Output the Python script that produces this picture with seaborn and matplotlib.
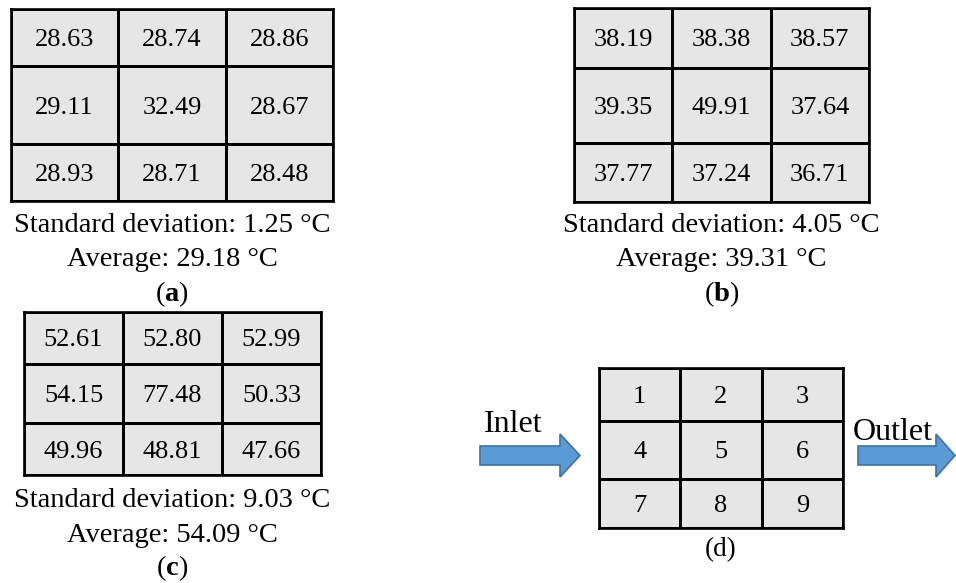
import numpy as np
import matplotlib
matplotlib.use("Agg")
import matplotlib.pyplot as plt
from matplotlib.colors import ListedColormap
from matplotlib.patches import FancyArrow
import seaborn as sns

sns.set_theme(style="white")
plt.rcParams["font.family"] = ["Liberation Serif", "DejaVu Serif"]
plt.rcParams["text.color"] = "black"
plt.rcParams["mathtext.fontset"] = "custom"
plt.rcParams["mathtext.rm"] = "Liberation Serif"
plt.rcParams["mathtext.bf"] = "Liberation Serif:bold"

# Surface temperatures (°C) at the nine measuring points
temps_a = [[28.63, 28.74, 28.86],
           [29.11, 32.49, 28.67],
           [28.93, 28.71, 28.48]]
temps_b = [[38.19, 38.38, 38.57],
           [39.35, 49.91, 37.64],
           [37.77, 37.24, 36.71]]
temps_c = [[52.61, 52.80, 52.99],
           [54.15, 77.48, 50.33],
           [49.96, 48.81, 47.66]]
point_ids = [[1, 2, 3],
             [4, 5, 6],
             [7, 8, 9]]

std_labels = ["Standard deviation: 1.25 °C",
              "Standard deviation: 4.05 °C",
              "Standard deviation: 9.03 °C"]
avg_labels = ["Average: 29.18 °C",
              "Average: 39.31 °C",
              "Average: 54.09 °C"]
panel_tags = ["a", "b", "c"]

W, H = 956, 583
fig = plt.figure(figsize=(W / 100, H / 100), dpi=100)
fig.patch.set_facecolor("white")

# Full-figure canvas in pixel units for captions and arrows
bg = fig.add_axes([0, 0, 1, 1])
bg.set_xlim(0, W)
bg.set_ylim(H, 0)
bg.axis("off")

CELL = "#E7E6E6"
cmap = ListedColormap([CELL])
LW = 1.9


def grid_axes(x0, y0, x1, y1):
    return fig.add_axes([x0 / W, 1 - y1 / H, (x1 - x0) / W, (y1 - y0) / H])


def draw_grid(ax, values, fmt, fontsize, row_edges):
    sns.heatmap(np.array(values), ax=ax, cmap=cmap, cbar=False,
                annot=True, fmt=fmt, linewidths=LW, linecolor="black",
                annot_kws={"color": "black", "fontsize": fontsize,
                           "va": "center_baseline"})
    # rows of unequal height: piecewise-linear y scale
    src = [0, 1, 2, 3]
    dst = list(row_edges)
    ax.set_yscale("function",
                  functions=(lambda y: np.interp(y, src, dst),
                             lambda y: np.interp(y, dst, src)))
    ax.set_ylim(3, 0)
    ax.set_xlim(0, 3)
    ax.set_xticks([])
    ax.set_yticks([])
    ax.set_xlabel("")
    ax.set_ylabel("")
    for s in ax.spines.values():
        s.set_visible(True)
        s.set_color("black")
        s.set_linewidth(LW)


# panel boxes (x0, y0, x1, y1) and the two inner row lines
panels = [
    ((11, 9, 333, 201), (66, 144)),
    ((574, 8, 869, 202), (68, 143)),
    ((24, 312, 321, 475), (364, 423)),
]
caption_base = [(232, 266, 301), (232, 266, 301), (507, 542, 575)]
CAP = 20.5
for vals, (box, rows), sd, av, tag, cy in zip(
        [temps_a, temps_b, temps_c], panels, std_labels, avg_labels,
        panel_tags, caption_base):
    x0, y0, x1, y1 = box
    ax = grid_axes(*box)
    draw_grid(ax, vals, ".2f", 19, (0, rows[0] - y0, rows[1] - y0, y1 - y0))
    cx = (x0 + x1) / 2
    bg.text(cx, cy[0], sd, ha="center", va="baseline", fontsize=CAP)
    bg.text(cx, cy[1], av, ha="center", va="baseline", fontsize=CAP)
    bg.text(cx, cy[2], "($\\mathbf{%s}$)" % tag, ha="center", va="baseline",
            fontsize=CAP)

# Layout sketch (d)
ax_d = grid_axes(599, 368, 843, 528)
draw_grid(ax_d, point_ids, "d", 19, (0, 421 - 368, 479 - 368, 528 - 368))
bg.text(721, 556, "(d)", ha="center", va="baseline", fontsize=19.5)

ARROW = "#5B9BD5"
ARROW_EDGE = "#41719C"
bg.add_patch(FancyArrow(480, 455.5, 100, 0, width=19, head_width=43,
                        head_length=20, length_includes_head=True,
                        facecolor=ARROW, edgecolor=ARROW_EDGE, lw=1.2))
bg.add_patch(FancyArrow(858, 455.5, 97, 0, width=19, head_width=43,
                        head_length=19, length_includes_head=True,
                        facecolor=ARROW, edgecolor=ARROW_EDGE, lw=1.2))
bg.text(513, 432, "Inlet", ha="center", va="baseline", fontsize=23)
bg.text(893, 440, "Outlet", ha="center", va="baseline", fontsize=23)

fig.savefig("out.png", dpi=100, facecolor="white")
